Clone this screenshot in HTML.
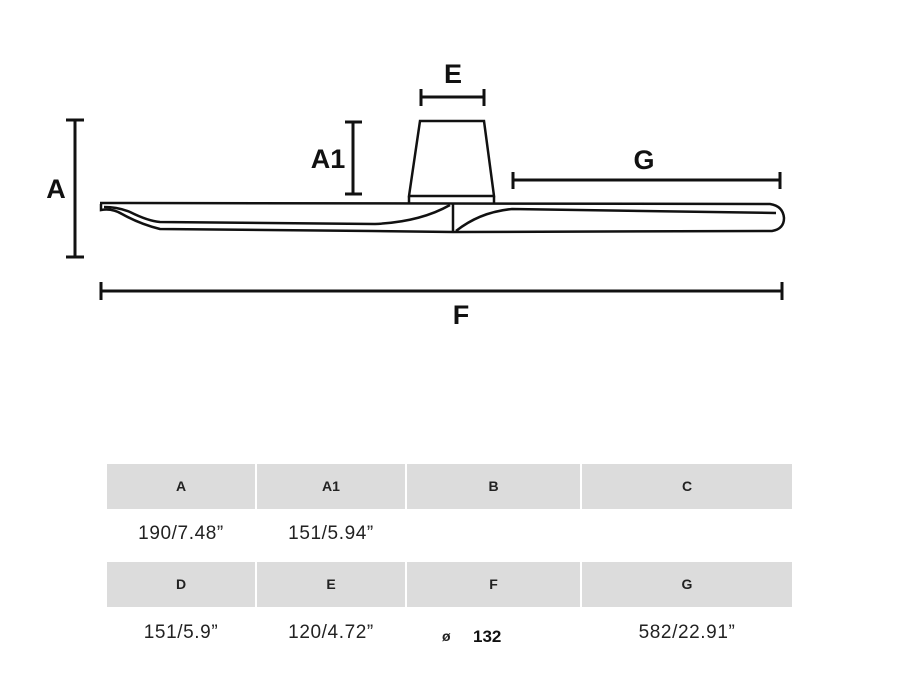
<!DOCTYPE html>
<html><head><style>
body{margin:0;background:#fff;width:900px;height:683px;overflow:hidden;position:relative;font-family:"Liberation Sans",Arial,sans-serif}
.c{position:absolute;background:#dcdcdc;height:45px;line-height:45px;text-align:center;font-size:14px;font-weight:bold;color:#222}
.v{position:absolute;text-align:center;font-size:19px;letter-spacing:0.6px;color:#222}
</style></head><body>
<svg width="900" height="683" style="position:absolute;left:0;top:0" fill="none" stroke="#111" stroke-width="3">
<line x1="75" y1="120" x2="75" y2="257"/><line x1="66" y1="120" x2="84" y2="120"/><line x1="66" y1="257" x2="84" y2="257"/>
<text x="56" y="198" font-size="27" font-weight="bold" fill="#111" stroke="none" text-anchor="middle" font-family="Liberation Sans">A</text>
<line x1="353" y1="122" x2="353" y2="194"/><line x1="345" y1="122" x2="362" y2="122"/><line x1="345" y1="194" x2="362" y2="194"/>
<text x="328" y="168" font-size="27" font-weight="bold" fill="#111" stroke="none" text-anchor="middle" font-family="Liberation Sans">A1</text>
<line x1="421" y1="97" x2="484" y2="97"/><line x1="421" y1="89" x2="421" y2="106"/><line x1="484" y1="89" x2="484" y2="106"/>
<text x="453" y="83" font-size="27" font-weight="bold" fill="#111" stroke="none" text-anchor="middle" font-family="Liberation Sans">E</text>
<path d="M409 196 L420 121 L484 121 L494 196 Z M409 196 L409 203 M494 196 L494 203" stroke-width="2.5"/>
<line x1="513" y1="180" x2="780" y2="180"/><line x1="513" y1="172" x2="513" y2="189"/><line x1="780" y1="172" x2="780" y2="189"/>
<text x="644" y="169" font-size="27" font-weight="bold" fill="#111" stroke="none" text-anchor="middle" font-family="Liberation Sans">G</text>
<g stroke-width="2.5">
<path d="M101 204 L101 210 Q112 208 122 214 Q140 224 160 229 L372 231 L453 232 L772 231 Q784 229 784 218 Q783 206 770 204 L100 203"/>
<path d="M104 207 Q118 207 130 212 Q148 221 160 222 L375 224 Q420 222 450 205"/>
<line x1="453" y1="204" x2="453" y2="232"/>
<path d="M456 231 Q480 212 512 209 L776 213"/>
</g>
<line x1="101" y1="291" x2="782" y2="291"/><line x1="101" y1="282" x2="101" y2="300"/><line x1="782" y1="282" x2="782" y2="300"/>
<text x="461" y="324" font-size="27" font-weight="bold" fill="#111" stroke="none" text-anchor="middle" font-family="Liberation Sans">F</text>
</svg>
<div class="c" style="left:107px;top:464px;width:148px">A</div>
<div class="c" style="left:257px;top:464px;width:148px">A1</div>
<div class="c" style="left:407px;top:464px;width:173px">B</div>
<div class="c" style="left:582px;top:464px;width:210px">C</div>
<div class="v" style="left:107px;top:523px;width:148px">190/7.48”</div>
<div class="v" style="left:257px;top:523px;width:148px">151/5.94”</div>
<div class="c" style="left:107px;top:562px;width:148px">D</div>
<div class="c" style="left:257px;top:562px;width:148px">E</div>
<div class="c" style="left:407px;top:562px;width:173px">F</div>
<div class="c" style="left:582px;top:562px;width:210px">G</div>
<div class="v" style="left:107px;top:622px;width:148px">151/5.9”</div>
<div class="v" style="left:257px;top:622px;width:148px">120/4.72”</div>
<div style="position:absolute;left:442px;top:628px;font-size:14px;font-weight:bold;color:#222">ø</div>
<div style="position:absolute;left:473px;top:627px;font-size:17px;font-weight:bold;color:#111">132</div>
<div class="v" style="left:582px;top:622px;width:210px">582/22.91”</div>
</body></html>
